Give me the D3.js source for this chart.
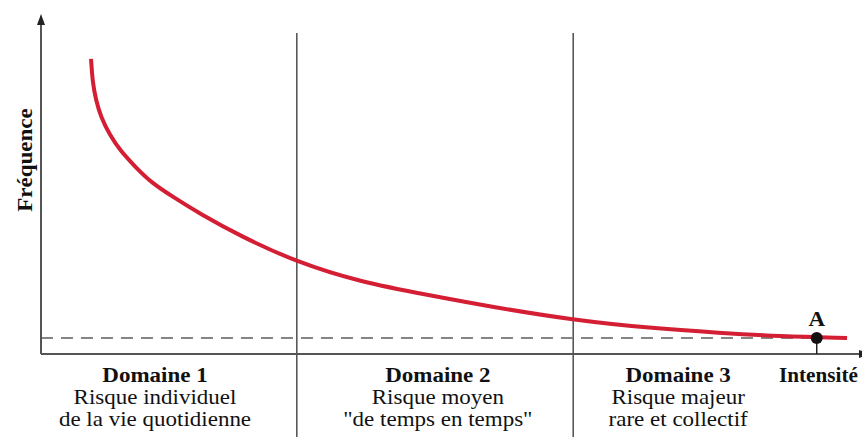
<!DOCTYPE html>
<html>
<head>
<meta charset="utf-8">
<script src="https://cdn.jsdelivr.net/npm/d3@7"></script>
<style>
  html, body { margin: 0; padding: 0; background: #fff; }
  svg { display: block; }
</style>
</head>
<body>
<svg id="chart" width="862" height="437"></svg>
<script>
// courbe fréquence / intensité (unités arbitraires 0-100)
const intensite = [6.1, 6.3, 6.7, 7.3, 8.4, 9.6, 11.5, 13.5, 16.1, 19.4, 24.3, 31.1, 38.9, 47.1, 55.1, 64.9, 74.3, 82.8, 90.1, 98.3];
const frequence = [86.8, 79.7, 74.7, 69.7, 64.4, 60.0, 55.0, 50.3, 46.2, 41.2, 34.7, 27.1, 21.2, 17.4, 13.8, 10.0, 7.6, 6.2, 5.2, 4.7];

const seuil = 4.7;            // ligne pointillée
const limites = [31.2, 64.9]; // séparations des domaines
const pointA = { x: 94.6, y: 4.7, label: 'A' };

const domaines = [
    { x: 13.9, titre: 'Domaine 1', lignes: ['Risque individuel', 'de la vie quotidienne'] },
    { x: 48.4, titre: 'Domaine 2', lignes: ['Risque moyen', '"de temps en temps"'] },
    { x: 77.7, titre: 'Domaine 3', lignes: ['Risque majeur', 'rare et collectif'] }
];
const labelX = 'Intensité';
const labelY = 'Fréquence';

const svg = d3.select('#chart');
const font = '"Liberation Serif", "Times New Roman", "DejaVu Serif", serif';

const x = d3.scaleLinear().domain([0, 100]).range([41, 861]);
const y = d3.scaleLinear().domain([0, 100]).range([354, 14]);

const axisColor = '#555';

// séparations verticales
svg.append('g')
    .selectAll('line')
    .data(limites)
    .join('line')
    .attr('x1', d => x(d)).attr('x2', d => x(d))
    .attr('y1', 33).attr('y2', 437)
    .attr('stroke', '#333')
    .attr('stroke-width', 1.3);

// ligne pointillée
svg.append('line')
    .attr('x1', x(0)).attr('x2', x(pointA.x))
    .attr('y1', y(seuil)).attr('y2', y(seuil))
    .attr('stroke', '#858585')
    .attr('stroke-width', 2)
    .attr('stroke-dasharray', '12,8');

// axes
svg.append('line')
    .attr('x1', x(0)).attr('x2', x(0))
    .attr('y1', y(0)).attr('y2', y(100) + 6)
    .attr('stroke', axisColor).attr('stroke-width', 2);
svg.append('path')
    .attr('d', `M${x(0)},${y(100)} l-4,11 l8,0 z`)
    .attr('fill', '#222');
svg.append('line')
    .attr('x1', x(0)).attr('x2', 862)
    .attr('y1', y(0)).attr('y2', y(0))
    .attr('stroke', axisColor).attr('stroke-width', 2);
svg.append('path')
    .attr('d', `M${x(100) + 9},${y(0)} l-11,-4 l0,8 z`)
    .attr('fill', '#222');

// courbe
const pts = intensite.map((v, i) => [v, frequence[i]]);
const line = d3.line()
    .x(d => x(d[0]))
    .y(d => y(d[1]))
    .curve(d3.curveBasis);
svg.append('path')
    .datum(pts)
    .attr('d', line)
    .attr('fill', 'none')
    .attr('stroke', '#d41e34')
    .attr('stroke-width', 4);

// point A
svg.append('line')
    .attr('x1', x(pointA.x)).attr('x2', x(pointA.x))
    .attr('y1', y(pointA.y)).attr('y2', y(0))
    .attr('stroke', '#222').attr('stroke-width', 1.5);
svg.append('circle')
    .attr('cx', x(pointA.x)).attr('cy', y(pointA.y))
    .attr('r', 6)
    .attr('fill', '#111');

// le texte de l'image est un peu étiré en largeur
function label(px, py, txt, opts) {
    opts = opts || {};
    const sx = opts.sx || 1.15;
    return svg.append('text')
        .attr('transform', `translate(${px},${py}) ${opts.rotate ? 'rotate(-90)' : ''} scale(${sx},1)`)
        .attr('text-anchor', opts.anchor || 'middle')
        .attr('font-family', font)
        .attr('font-weight', opts.bold ? 'bold' : 'normal')
        .attr('font-size', opts.size || 20)
        .attr('fill', '#111')
        .text(txt);
}

label(x(pointA.x), y(pointA.y) - 12, pointA.label, { bold: true });

// textes des domaines
domaines.forEach(d => {
    label(x(d.x), 382, d.titre, { bold: true });
    d.lignes.forEach((t, i) => label(x(d.x), 404 + i * 22, t));
});

// titres des axes
label(779, 382, labelX, { bold: true, anchor: 'start', sx: 1.06 });
label(32, 160, labelY, { bold: true, rotate: true });
</script>
</body>
</html>
